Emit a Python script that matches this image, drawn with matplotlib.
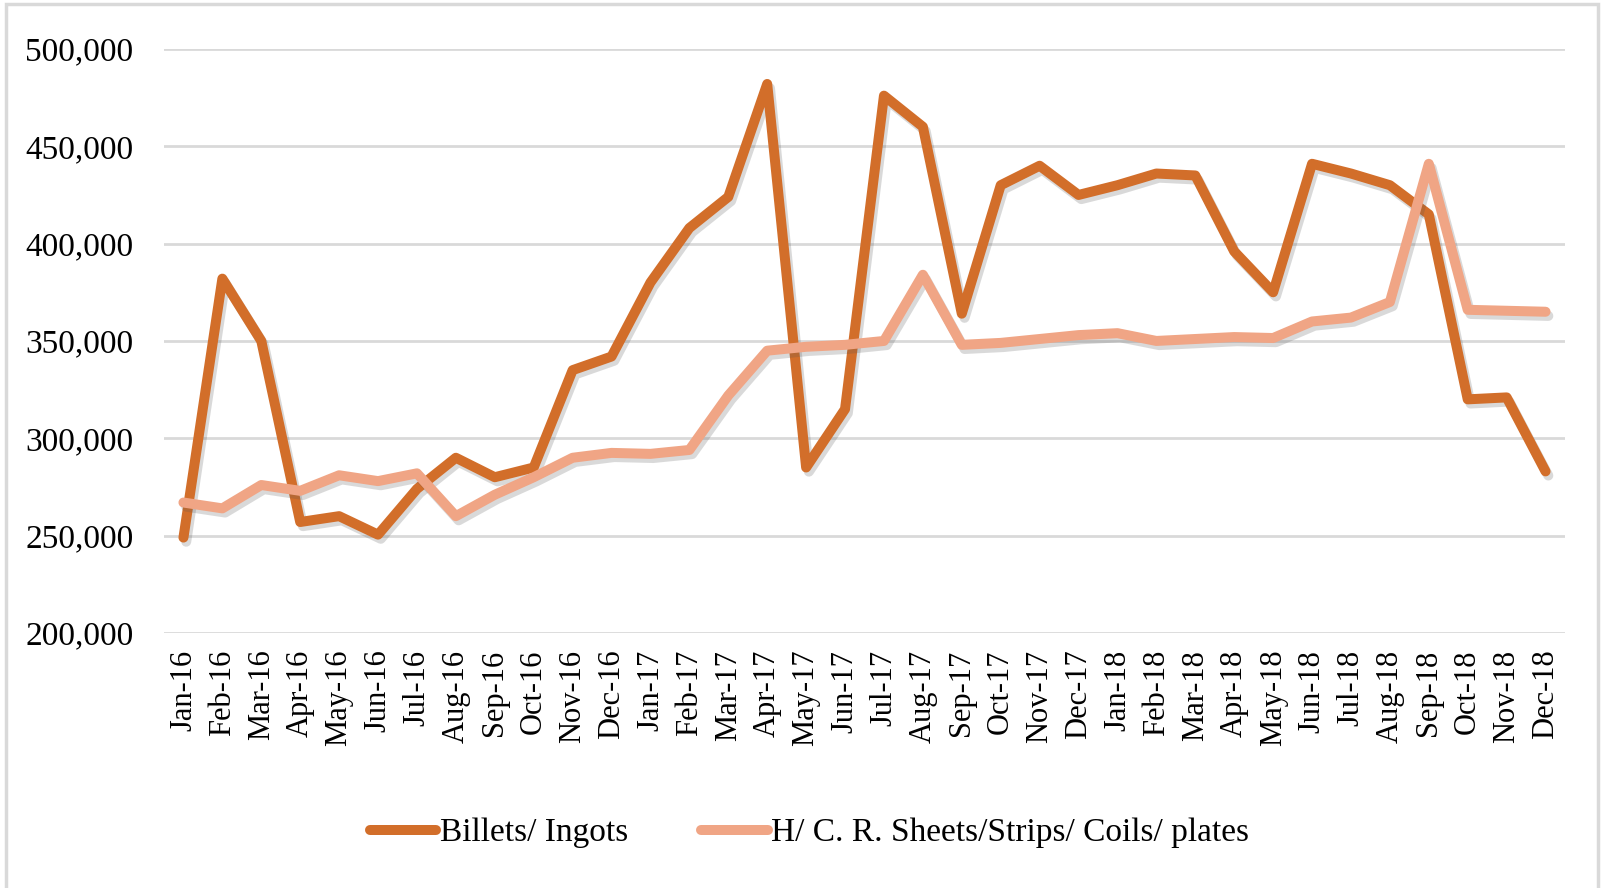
import matplotlib
matplotlib.use("Agg")
import matplotlib.pyplot as plt
import matplotlib.patheffects as pe
import matplotlib.ticker as mticker
from matplotlib.patches import Rectangle


MONTHS = [
    "Jan-16", "Feb-16", "Mar-16", "Apr-16", "May-16", "Jun-16",
    "Jul-16", "Aug-16", "Sep-16", "Oct-16", "Nov-16", "Dec-16",
    "Jan-17", "Feb-17", "Mar-17", "Apr-17", "May-17", "Jun-17",
    "Jul-17", "Aug-17", "Sep-17", "Oct-17", "Nov-17", "Dec-17",
    "Jan-18", "Feb-18", "Mar-18", "Apr-18", "May-18", "Jun-18",
    "Jul-18", "Aug-18", "Sep-18", "Oct-18", "Nov-18", "Dec-18",
]

billets = [
    249000, 382000, 350000, 257000, 260000, 250500,
    274000, 290000, 280000, 285000, 335000, 342000,
    380000, 408000, 424000, 482000, 285000, 315000,
    476000, 460000, 364000, 430000, 440000, 425000,
    430000, 436000, 435000, 396000, 375000, 441000,
    436000, 430000, 415000, 320000, 321000, 283000,
]

sheets = [
    267000, 264000, 276000, 273000, 281000, 278000,
    282000, 260000, 271000, 280000, 290000, 292500,
    292000, 294000, 322000, 345000, 347000, 348000,
    350000, 384000, 348000, 349000, 351000, 353000,
    354000, 350000, 351000, 352000, 351500, 360000,
    362000, 370000, 441000, 366000, 365500, 365000,
]

SERIES_NAMES = ["Billets/ Ingots", "H/ C. R. Sheets/Strips/ Coils/ plates"]
COLORS = ["#d26e2a", "#f0a585"]
Y_TICKS = [200000, 250000, 300000, 350000, 400000, 450000, 500000]

FONT = "Liberation Serif"


def main():
    fig = plt.figure(figsize=(16.03, 8.88), dpi=100)
    fig.patches.append(
        Rectangle((0.004, -0.02), 0.993, 1.015, transform=fig.transFigure,
                  facecolor="none", edgecolor="#d9d9d9", linewidth=2.5)
    )

    ax = fig.add_axes([0.1023, 0.2872, 0.874, 0.6577])
    x = list(range(len(MONTHS)))

    shadow = [pe.SimpleLineShadow(offset=(2, -3), shadow_color="#555555", alpha=0.22), pe.Normal()]
    for vals, name, color in zip([billets, sheets], SERIES_NAMES, COLORS):
        ax.plot(x, vals, color=color, linewidth=7.2, label=name,
                solid_joinstyle="round", solid_capstyle="round",
                path_effects=shadow, zorder=3)

    ax.set_xlim(-0.5, len(MONTHS) - 0.5)
    ax.set_ylim(200000, 500000)
    ax.set_yticks(Y_TICKS)
    ax.yaxis.set_major_formatter(mticker.FuncFormatter(lambda v, p: f"{int(v):,}"))
    ax.set_xticks(x)
    ax.set_xticklabels(MONTHS, rotation=90, fontfamily=FONT, fontsize=22)
    for lbl in ax.get_yticklabels():
        lbl.set_fontfamily(FONT)
        lbl.set_fontsize(24)
    ax.tick_params(axis="y", length=0, pad=22)
    ax.tick_params(axis="x", length=0, pad=12)

    ax.grid(axis="y", color="#d9d9d9", linewidth=2.0)
    ax.set_axisbelow(True)
    for s in ax.spines.values():
        s.set_visible(False)

    leg = fig.legend(
        loc="center", bbox_to_anchor=(0.505, 0.062), ncol=2, frameon=False,
        prop={"family": FONT, "size": 24}, handlelength=2.0,
        handletextpad=0.1, columnspacing=2.2,
    )
    for h in leg.get_lines():
        h.set_linewidth(7.2)
        h.set_path_effects([])

    fig.savefig("out.png", dpi=100)
    plt.close(fig)


if __name__ == "__main__":
    main()
